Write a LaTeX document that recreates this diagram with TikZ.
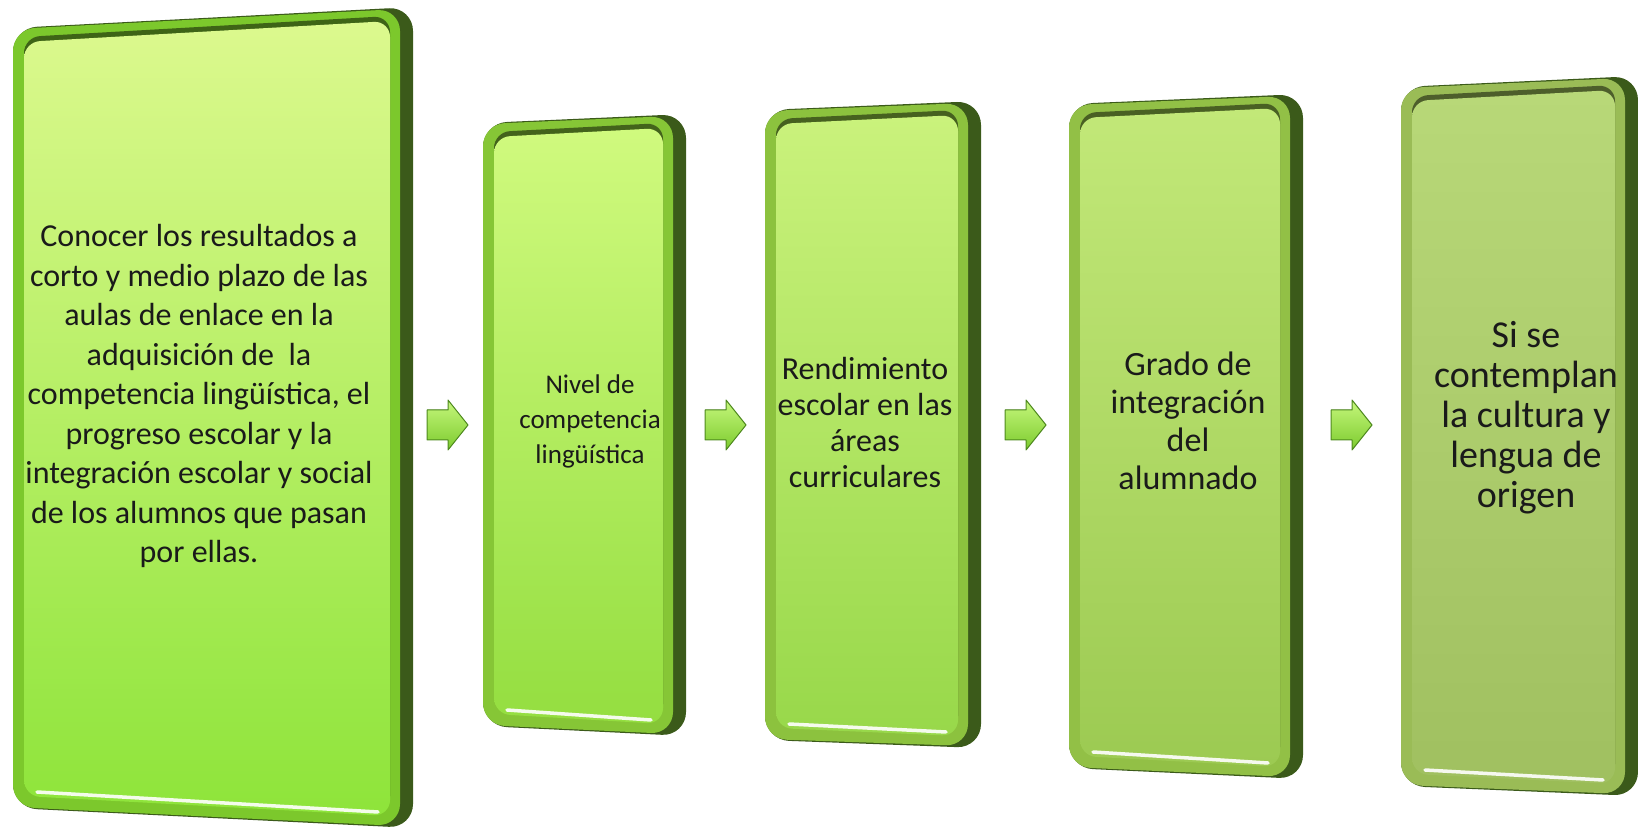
\documentclass[tikz,border=0pt]{standalone}
\usepackage{fontspec}
\setmainfont{Carlito}
\usetikzlibrary{calc}
\definecolor{darkrim}{HTML}{3B5A1A}
\definecolor{txt}{HTML}{1A1A1A}
\definecolor{rimA}{HTML}{7CC82C}
\definecolor{rimB}{HTML}{86C636}
\definecolor{rimC}{HTML}{8CC23E}
\definecolor{rimD}{HTML}{92C046}
\definecolor{rimE}{HTML}{9ABC56}
\definecolor{topA}{HTML}{DCF98E}
\definecolor{midA}{HTML}{B2F058}
\definecolor{botA}{HTML}{8EE43A}
\definecolor{topB}{HTML}{D0FA7E}
\definecolor{midB}{HTML}{B2EE5C}
\definecolor{botB}{HTML}{94DE40}
\definecolor{topC}{HTML}{CAF27C}
\definecolor{midC}{HTML}{B0E660}
\definecolor{botC}{HTML}{98D84A}
\definecolor{topD}{HTML}{C2E878}
\definecolor{midD}{HTML}{AEDA62}
\definecolor{botD}{HTML}{9CCA52}
\definecolor{topE}{HTML}{B8D878}
\definecolor{midE}{HTML}{AACC6A}
\definecolor{botE}{HTML}{A0C060}
\definecolor{arrT}{HTML}{C6F77C}
\definecolor{arrB}{HTML}{7CCB2E}
\definecolor{arrD}{HTML}{4E8A1E}
\tikzset{
  boxtext/.style={text=txt, align=center, inner sep=0pt},
  arrowshape/.style={top color=arrT, bottom color=arrB, draw=arrD, line width=1pt, line join=round},
}
% #1 prefix, #2 rim, #3 top, #4 middle, #5 bottom
\newcommand\panelbox[5]{%
  \fill[darkrim, rounded corners=24pt] (#1tl) -- (#1tr) -- (#1br) -- (#1bl) -- cycle;
  \fill[#2, rounded corners=22pt] ($(#1tl)+(0,-1)$) -- ($(#1tr)+(-13,-2)$) -- ($(#1br)+(-13,2)$) -- ($(#1bl)+(0,1)$) -- cycle;
  \fill[#2!50!black, rounded corners=16pt] ($(#1tl)+(11,-9)$) -- ($(#1tr)+(-23,-9)$) -- ($(#1br)+(-23,16)$) -- ($(#1bl)+(11,16)$) -- cycle;
  \shade[rounded corners=16pt, top color=#3, middle color=#4, bottom color=#5] ($(#1tl)+(11,-14)$) -- ($(#1tr)+(-23,-14)$) -- ($(#1br)+(-23,12)$) -- ($(#1bl)+(11,12)$) -- cycle;
  \draw[white, line width=3.5pt, line cap=round, opacity=.9] ($(#1bl)+(24,16)$) -- ($(#1br)+(-35,16)$);
}
\newcommand\blockarrow[2]{%
  \coordinate (#1) at (#2);
  \filldraw[arrowshape] ($(#1)+(-21,-15)$) -- ($(#1)+(0,-15)$) -- ($(#1)+(0,-25)$) -- ($(#1)+(20,0)$) -- ($(#1)+(0,25)$) -- ($(#1)+(0,15)$) -- ($(#1)+(-21,15)$) -- cycle;
}
\begin{document}
\begin{tikzpicture}[x=1pt, y=1pt]
\useasboundingbox (0,0) rectangle (1638,833);
% box corners
\coordinate (atl) at (13,805);  \coordinate (atr) at (413,826);
\coordinate (abr) at (413,5);   \coordinate (abl) at (13,25);
\coordinate (btl) at (483,710); \coordinate (btr) at (686,719);
\coordinate (bbr) at (686,97);  \coordinate (bbl) at (483,107);
\coordinate (ctl) at (765,723); \coordinate (ctr) at (981,732);
\coordinate (cbr) at (981,85);  \coordinate (cbl) at (765,93);
\coordinate (dtl) at (1069,729);\coordinate (dtr) at (1303,739);
\coordinate (dbr) at (1303,54); \coordinate (dbl) at (1069,65);
\coordinate (etl) at (1401,746);\coordinate (etr) at (1638,757);
\coordinate (ebr) at (1638,37); \coordinate (ebl) at (1401,47);
\panelbox{a}{rimA}{topA}{midA}{botA}
\panelbox{b}{rimB}{topB}{midB}{botB}
\panelbox{c}{rimC}{topC}{midC}{botC}
\panelbox{d}{rimD}{topD}{midD}{botD}
\panelbox{e}{rimE}{topE}{midE}{botE}
% texts
\node[boxtext, font=\fontsize{32}{39.5}\selectfont] (t1) at (199,437) {Conocer los resultados a\\corto y medio plazo de las\\aulas de enlace en la\\adquisición de\ \ la\\competencia lingüística, el\\progreso escolar y la\\integración escolar y social\\de los alumnos que pasan\\por ellas.};
\node[boxtext, font=\fontsize{27}{35}\selectfont] (t2) at (590,412) {Nivel de\\competencia\\lingüística};
\node[boxtext, font=\fontsize{32}{36}\selectfont] (t3) at (865,410) {Rendimiento\\escolar en las\\áreas\\curriculares};
\node[boxtext, font=\fontsize{34}{38}\selectfont] (t4) at (1188,412) {Grado de\\integración\\del\\alumnado};
\node[boxtext, font=\fontsize{38}{40}\selectfont] (t5) at (1526,415) {Si se\\contemplan\\la cultura y\\lengua de\\origen};
% arrows
\blockarrow{a1}{448,408}
\blockarrow{a2}{726,408}
\blockarrow{a3}{1026,408}
\blockarrow{a4}{1352,408}
\end{tikzpicture}
\end{document}
